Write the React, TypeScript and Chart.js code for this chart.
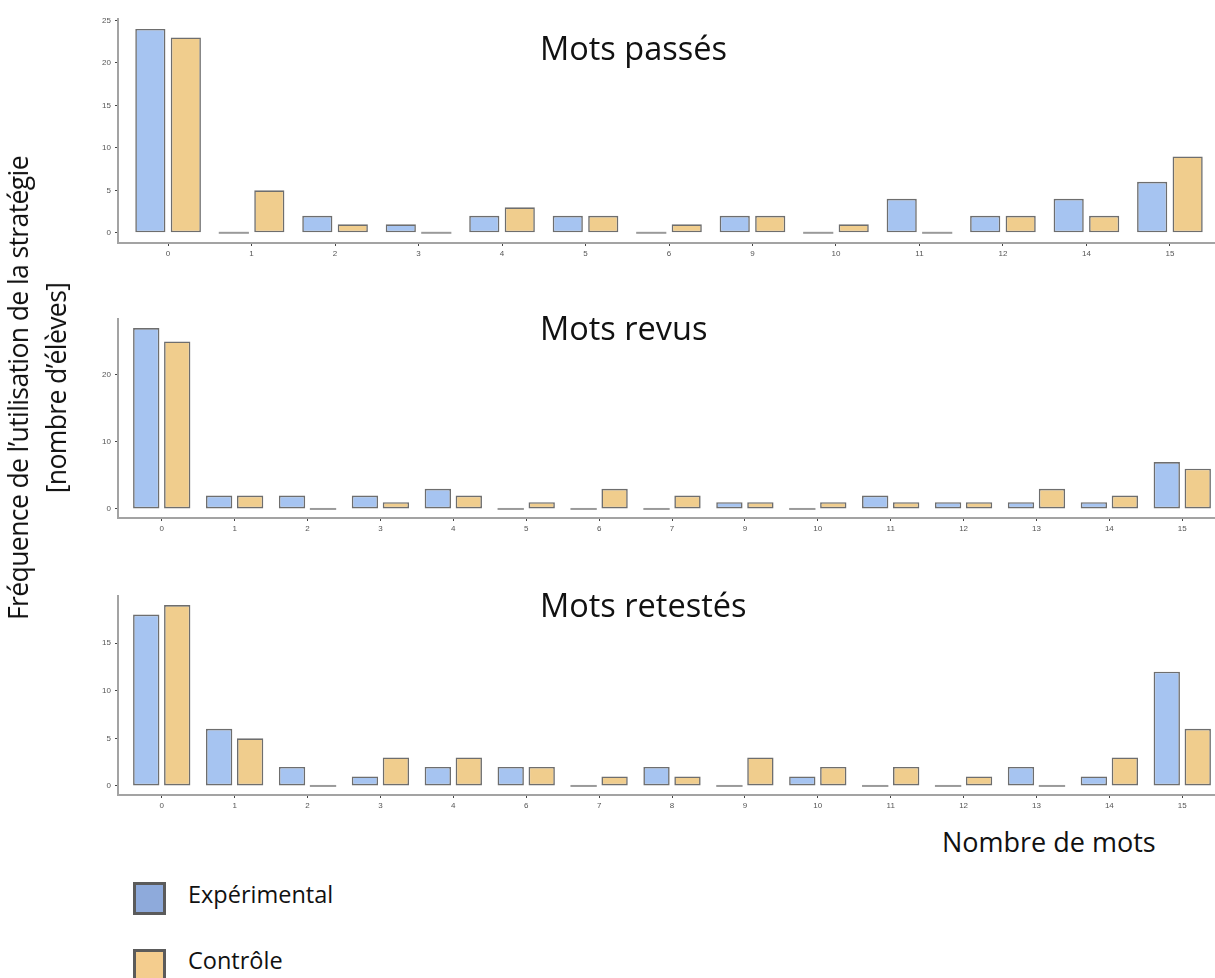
import React, { useEffect, useRef } from "react";
import { Chart, registerables } from "chart.js";

Chart.register(...registerables);

// ---- Data ----
const passesLabels = ["0", "1", "2", "3", "4", "5", "6", "9", "10", "11", "12", "14", "15"];
const passesExp = [24, 0, 2, 1, 2, 2, 0, 2, 0, 4, 2, 4, 6];
const passesCtrl = [23, 5, 1, 0, 3, 2, 1, 2, 1, 0, 2, 2, 9];
const passesYTicks = [0, 5, 10, 15, 20, 25];

const revusLabels = ["0", "1", "2", "3", "4", "5", "6", "7", "9", "10", "11", "12", "13", "14", "15"];
const revusExp = [27, 2, 2, 2, 3, 0, 0, 0, 1, 0, 2, 1, 1, 1, 7];
const revusCtrl = [25, 2, 0, 1, 2, 1, 3, 2, 1, 1, 1, 1, 3, 2, 6];
const revusYTicks = [0, 10, 20];

const retestesLabels = ["0", "1", "2", "3", "4", "6", "7", "8", "9", "10", "11", "12", "13", "14", "15"];
const retestesExp = [18, 6, 2, 1, 2, 2, 0, 2, 0, 1, 0, 0, 2, 1, 12];
const retestesCtrl = [19, 5, 0, 3, 3, 2, 1, 1, 3, 2, 2, 1, 0, 3, 6];
const retestesYTicks = [0, 5, 10, 15];

const seriesNames = ["Expérimental", "Contrôle"];

const BLUE = "#a6c4f1";
const ORANGE = "#f0cd8d";
const BAR_BORDER = "#6e6e6e";

const zeroBarPlugin = {
  id: "zeroBars",
  afterDatasetsDraw(chart: any) {
    const ctx = chart.ctx;
    ctx.save();
    ctx.strokeStyle = "#9a9a9a";
    ctx.lineWidth = 2;
    chart.data.datasets.forEach((ds: any, di: number) => {
      const meta = chart.getDatasetMeta(di);
      meta.data.forEach((el: any, i: number) => {
        const v = ds.data[i];
        const val = typeof v === "object" ? v.y : v;
        if (val === 0) {
          const half = el.width / 2;
          ctx.beginPath();
          ctx.moveTo(el.x - half, el.y);
          ctx.lineTo(el.x + half, el.y);
          ctx.stroke();
        }
      });
    });
    ctx.restore();
  },
};

type PanelProps = {
  labels: string[];
  exp: number[];
  ctrl: number[];
  yTicks: number[];
  yMin: number;
  yMax: number;
  left: number;
  top: number;
  width: number;
  height: number;
  padTop: number;
};

function Panel(p: PanelProps) {
  const ref = useRef<HTMLCanvasElement>(null);
  useEffect(() => {
    if (!ref.current) return;
    const n = p.labels.length;
    const chart = new Chart(ref.current, {
      type: "bar",
      data: {
        datasets: [
          {
            label: seriesNames[0],
            data: p.exp.map((v, i) => ({ x: i, y: v })),
            backgroundColor: BLUE,
            borderColor: BAR_BORDER,
            borderWidth: 1.6,
            borderSkipped: false,
            categoryPercentage: 0.85,
            barPercentage: 0.85,
          },
          {
            label: seriesNames[1],
            data: p.ctrl.map((v, i) => ({ x: i, y: v })),
            backgroundColor: ORANGE,
            borderColor: BAR_BORDER,
            borderWidth: 1.6,
            borderSkipped: false,
            categoryPercentage: 0.85,
            barPercentage: 0.85,
          },
        ] as any,
      },
      options: {
        responsive: false,
        animation: false,
        events: [],
        layout: { padding: { top: p.padTop, left: 0, right: 0, bottom: 0 } },
        plugins: { legend: { display: false }, tooltip: { enabled: false } },
        scales: {
          x: {
            type: "linear",
            offset: false,
            min: -0.6,
            max: n - 1 + 0.6,
            afterBuildTicks: (scale: any) => {
              scale.ticks = p.labels.map((_, i) => ({ value: i }));
            },
            afterFit: (scale: any) => {
              scale.height = 25;
            },
            ticks: {
              autoSkip: false,
              maxRotation: 0,
              padding: 3,
              color: "#555555",
              font: { family: "Liberation Sans", size: 8 },
              callback: (v: any) => p.labels[Math.round(Number(v))] ?? "",
            },
            grid: {
              display: true,
              offset: false,
              drawOnChartArea: false,
              drawTicks: true,
              tickLength: 3,
              color: "#444444",
              lineWidth: 1,
            },
            border: { display: true, color: "#a3a3a3", width: 2 },
          },
          y: {
            type: "linear",
            min: p.yMin,
            max: p.yMax,
            afterBuildTicks: (scale: any) => {
              scale.ticks = p.yTicks.map((v) => ({ value: v }));
            },
            afterFit: (scale: any) => {
              scale.width = 58;
            },
            ticks: {
              padding: 4,
              color: "#555555",
              font: { family: "Liberation Sans", size: 8 },
            },
            grid: {
              display: true,
              drawOnChartArea: false,
              drawTicks: true,
              tickLength: 3,
              color: "#444444",
              lineWidth: 1,
            },
            border: { display: true, color: "#a3a3a3", width: 2 },
          },
        },
      } as any,
      plugins: [zeroBarPlugin],
    });
    return () => chart.destroy();
  }, []);
  return (
    <canvas
      ref={ref}
      width={p.width}
      height={p.height}
      style={{ position: "absolute", left: p.left, top: p.top, width: p.width, height: p.height }}
    />
  );
}

const FONT = "'Open Sans', 'Noto Sans', sans-serif";

const titleStyle: React.CSSProperties = {
  position: "absolute",
  left: 540,
  fontFamily: FONT,
  fontSize: 32.5,
  lineHeight: "34px",
  color: "#111111",
  whiteSpace: "nowrap",
};

const legendText: React.CSSProperties = {
  position: "absolute",
  left: 188,
  fontFamily: FONT,
  fontSize: 23.5,
  lineHeight: "30px",
  color: "#111111",
  whiteSpace: "nowrap",
};

export default function App() {
  return (
    <div
      style={{
        position: "absolute",
        left: 0,
        top: 0,
        width: 1215,
        height: 978,
        overflow: "hidden",
        background: "#ffffff",
      }}
    >
      <Panel
        labels={passesLabels}
        exp={passesExp}
        ctrl={passesCtrl}
        yTicks={passesYTicks}
        yMin={-1.2}
        yMax={25.2}
        left={60}
        top={10}
        width={1160}
        height={258}
        padTop={6}
      />
      <Panel
        labels={revusLabels}
        exp={revusExp}
        ctrl={revusCtrl}
        yTicks={revusYTicks}
        yMin={-1.35}
        yMax={28.35}
        left={60}
        top={309}
        width={1166}
        height={234}
        padTop={10}
      />
      <Panel
        labels={retestesLabels}
        exp={retestesExp}
        ctrl={retestesCtrl}
        yTicks={retestesYTicks}
        yMin={-0.95}
        yMax={19.95}
        left={60}
        top={586}
        width={1166}
        height={234}
        padTop={10}
      />
      <div style={{ ...titleStyle, top: 31 }}>Mots passés</div>
      <div style={{ ...titleStyle, top: 311 }}>Mots revus</div>
      <div style={{ ...titleStyle, top: 588 }}>Mots retestés</div>

      <div style={{ position: "absolute", left: 37, top: 388, width: 0, height: 0 }}>
        <div
          style={{
            position: "absolute",
            left: 0,
            top: 0,
            transform: "translate(-50%, -50%) rotate(-90deg)",
            fontFamily: FONT,
            fontSize: 26.5,
            lineHeight: "38px",
            color: "#111111",
            whiteSpace: "nowrap",
            textAlign: "center",
            letterSpacing: -0.6,
          }}
        >
          Fréquence de l’utilisation de la stratégie
          <br />
          [nombre d’élèves]
        </div>
      </div>

      <div
        style={{
          position: "absolute",
          left: 942,
          top: 826,
          fontFamily: FONT,
          fontSize: 27,
          lineHeight: "32px",
          color: "#111111",
          whiteSpace: "nowrap",
        }}
      >
        Nombre de mots
      </div>

      <div
        style={{
          position: "absolute",
          left: 133,
          top: 882,
          width: 27,
          height: 27,
          background: "#8eaadb",
          border: "3px solid #5b5b5b",
        }}
      />
      <div style={{ ...legendText, top: 879 }}>Expérimental</div>
      <div
        style={{
          position: "absolute",
          left: 133,
          top: 949,
          width: 27,
          height: 27,
          background: "#f4cd8e",
          border: "3px solid #5b5b5b",
        }}
      />
      <div style={{ ...legendText, top: 945 }}>Contrôle</div>
    </div>
  );
}
